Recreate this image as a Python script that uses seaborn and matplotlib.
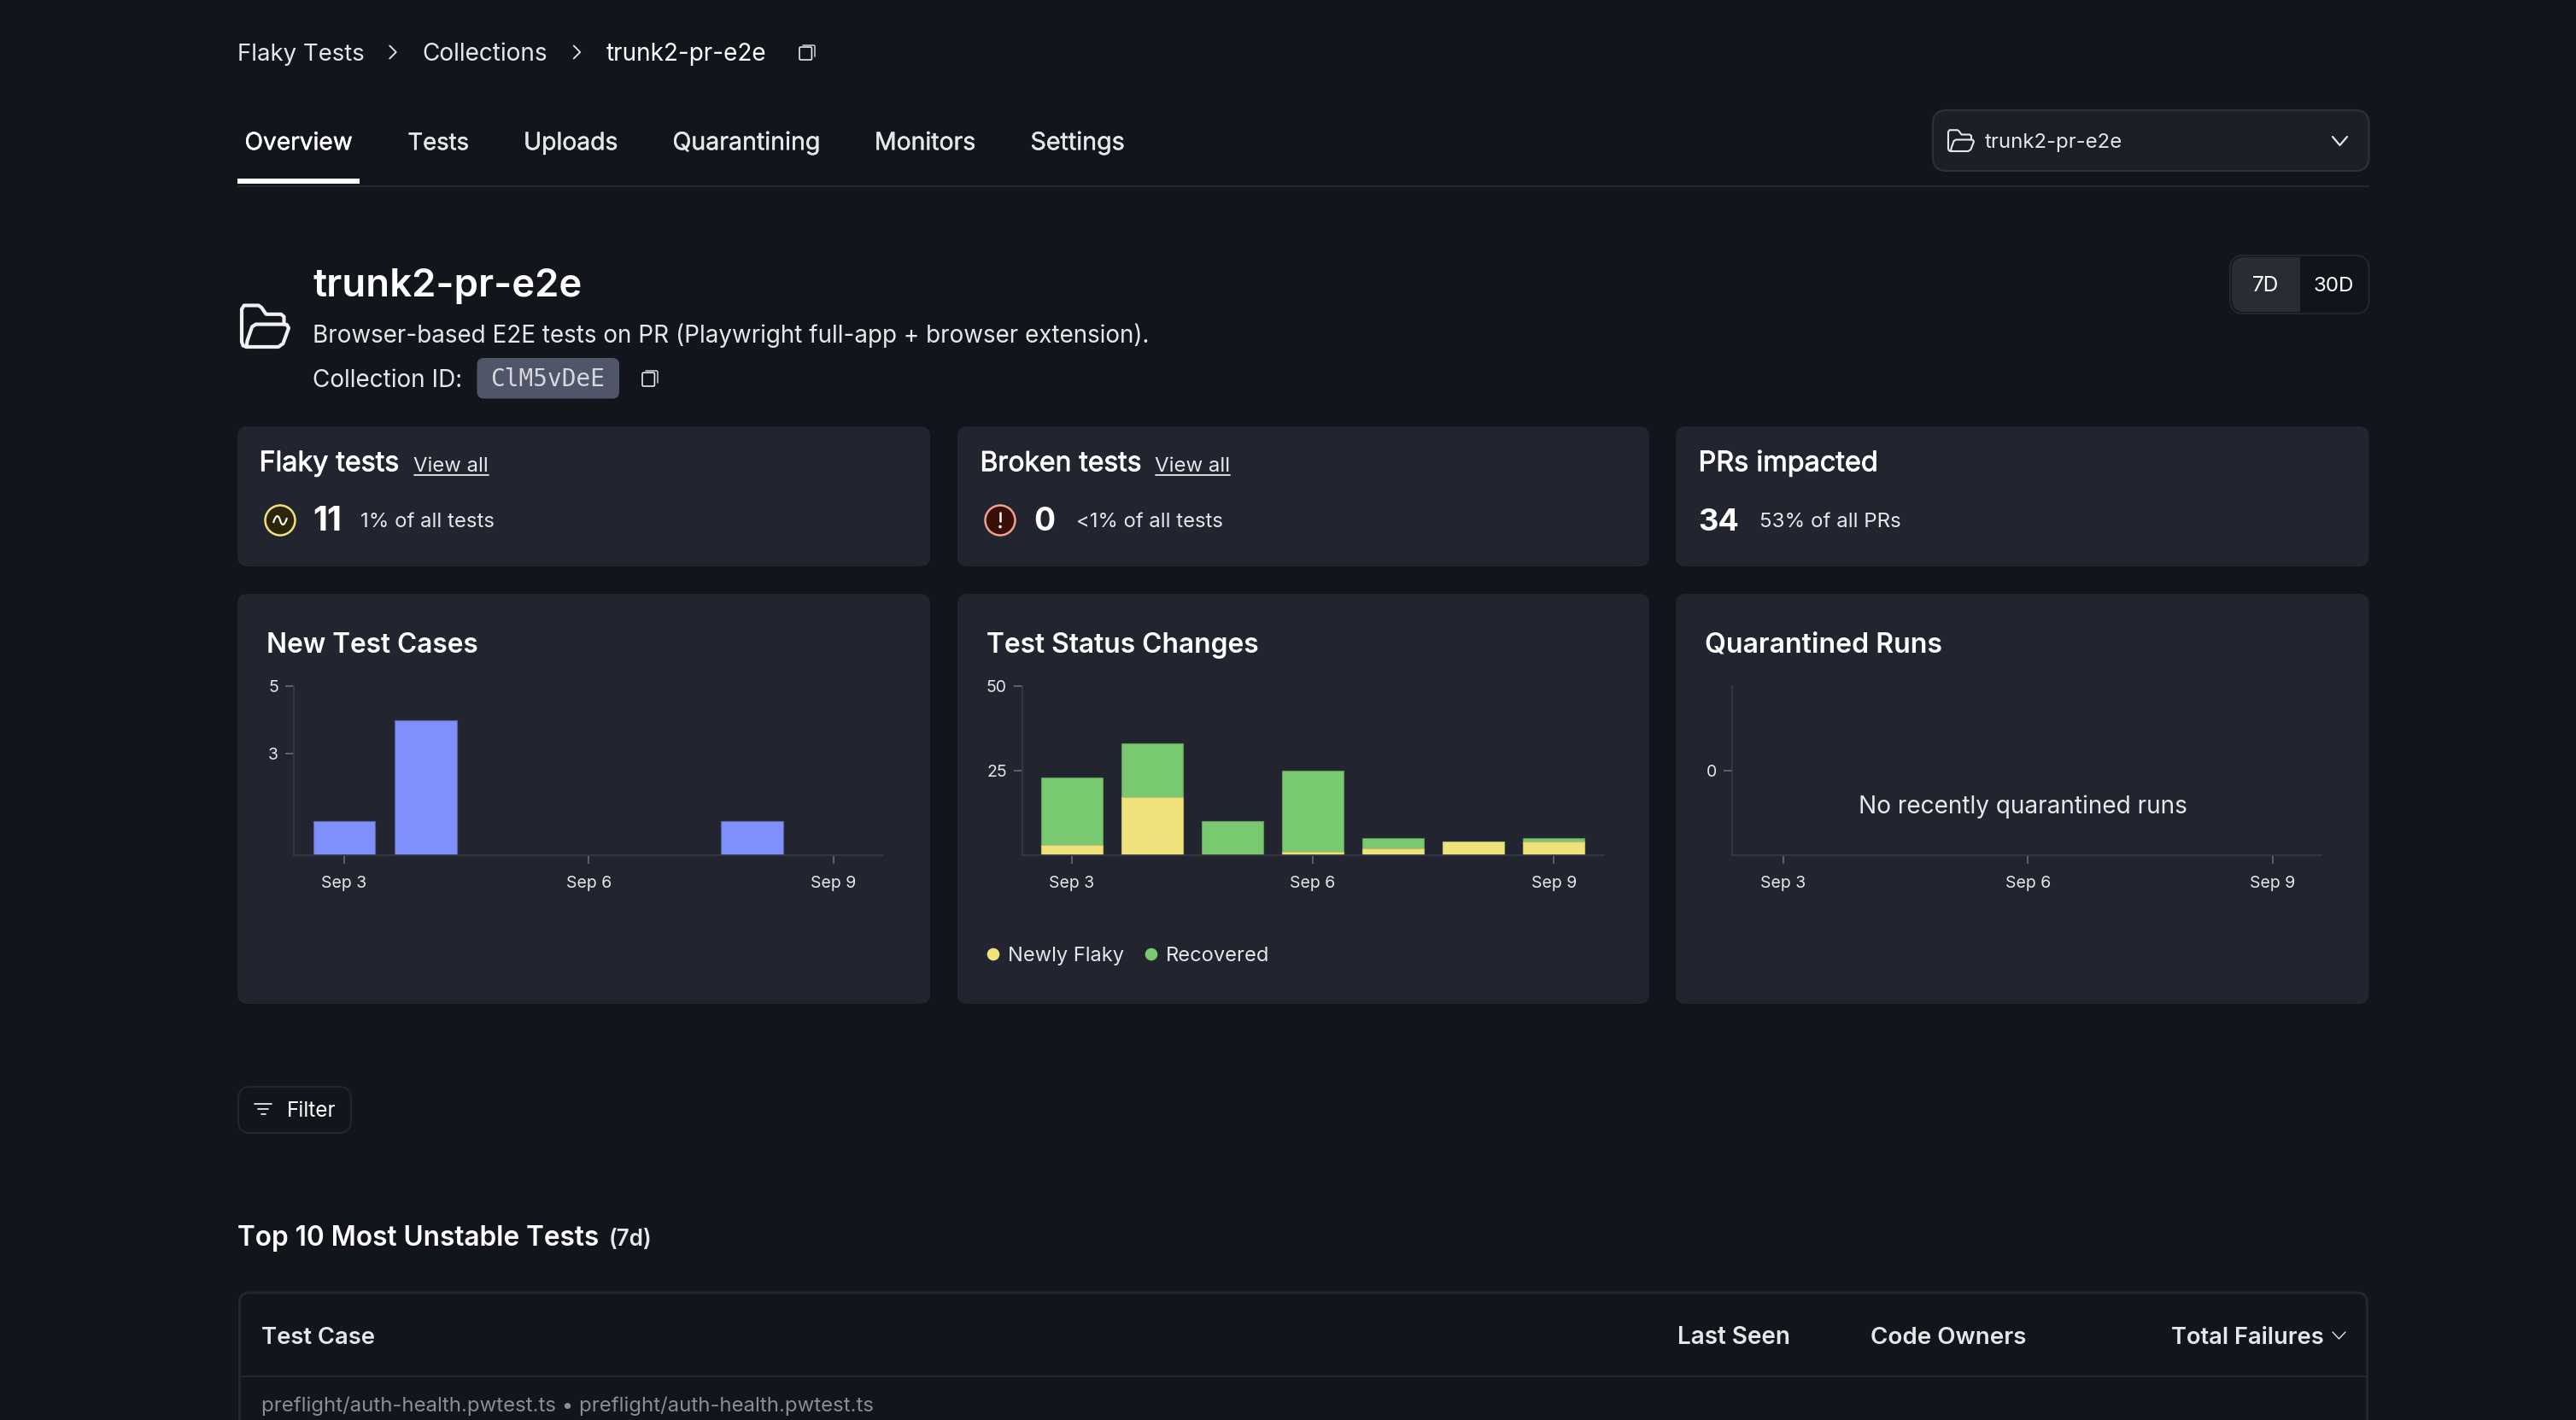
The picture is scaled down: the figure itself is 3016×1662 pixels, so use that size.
import matplotlib
matplotlib.use("Agg")
import matplotlib.pyplot as plt
import matplotlib.patheffects as pe
import seaborn as sns
from matplotlib.patches import FancyBboxPatch, Rectangle, Circle, PathPatch
from matplotlib.path import Path

# ---------- data ----------
days = ["Sep 3", "Sep 4", "Sep 5", "Sep 6", "Sep 7", "Sep 8", "Sep 9"]
new_test_cases = [1, 4, 0, 0, 0, 1, 0]
newly_flaky = [3, 17, 0, 1, 2, 4, 4]
recovered = [20, 16, 10, 24, 3, 0, 1]
quarantined = [0, 0, 0, 0, 0, 0, 0]
shown_ticks = [0, 3, 6]
shown_labels = ["Sep 3", "Sep 6", "Sep 9"]
tabs = ["Overview", "Tests", "Uploads", "Quarantining", "Monitors", "Settings"]

# ---------- style ----------
BG = "#12151c"
CARD = "#22252f"
LINE = "#23252f"
SPINE = "#363843"
TICK = "#6b6d75"
TXT = "#e6e7ea"
WHITE = "#ffffff"
BLUE = "#7f8ffb"
GREEN = "#79c971"
YELLOW = "#f0e27a"
W, H = 3016, 1662

sns.set_theme(style="dark")
plt.rcParams["font.family"] = ["Inter", "DejaVu Sans"]
plt.rcParams["axes.unicode_minus"] = False

fig = plt.figure(figsize=(W / 100, H / 100), dpi=100, facecolor=BG)
ui = fig.add_axes([0, 0, 1, 1], zorder=0)
ui.set_xlim(0, W)
ui.set_ylim(H, 0)
ui.axis("off")
renderer = fig.canvas.get_renderer()


def T(x0, x1, y, s, color=TXT, weight="normal", family=None, faux=0.0):
    kw = {"family": family} if family else {}
    t = ui.text(x0 - 0.5, y + 0.7, s, color=color, fontweight=weight, fontsize=20,
                va="baseline", ha="left", **kw)
    w = t.get_window_extent(renderer).width
    t.set_fontsize(20 * (x1 - x0 + 1) / w)
    if faux:
        t.set_path_effects([pe.withStroke(linewidth=faux, foreground=color)])
    return t


def box(x0, y0, x1, y1, r, fc=CARD, ec="none", lw=0.0, z=1):
    p = FancyBboxPatch((x0 + r, y0 + r), x1 - x0 - 2 * r, y1 - y0 - 2 * r,
                       boxstyle=f"round,pad={r},rounding_size={r}",
                       fc=fc, ec=ec, lw=lw, zorder=z)
    ui.add_patch(p)
    return p


def stroke(points, color=TXT, lw=1.5, z=3):
    xs, ys = zip(*points)
    ui.plot(xs, ys, color=color, lw=lw, solid_capstyle="round",
            solid_joinstyle="round", zorder=z)


def chevron_right(x, y, h, color=TXT, lw=1.3):
    stroke([(x - h * 0.25, y - h / 2), (x + h * 0.25, y), (x - h * 0.25, y + h / 2)], color, lw)


def chevron_down(x0, x1, y0, y1, color=TXT, lw=1.6):
    stroke([(x0, y0), ((x0 + x1) / 2, y1), (x1, y0)], color, lw)


def copy_icon(x0, y0, x1, y1, color=TXT):
    w = x1 - x0
    h = y1 - y0
    box(x0, y0 + h * 0.12, x1 - w * 0.2, y1, 1.5, fc="none", ec=color, lw=1.2, z=3)
    stroke([(x0 + w * 0.22, y0), (x1 - 1, y0), (x1, y0 + 1), (x1, y1 - h * 0.22)], color, 1.0)


def folder(x0, y0, x1, y1, color=TXT, lw=2.5):
    w = x1 - x0
    h = y1 - y0
    f = lambda a, b: (x0 + a * w, y0 + b * h)
    stroke([f(.1, 1), f(.03, .97), f(0, .88), f(0, .1), f(.05, .01), f(.36, .01), f(.42, .06),
            f(.52, .22), f(.84, .22), f(.9, .28), f(.9, .46)], color, lw)
    stroke([f(.1, 1), f(.78, 1), f(.88, .92), f(1, .55), f(.96, .47), f(.9, .46), f(.3, .46),
            f(.22, .52), f(.12, .85), f(.1, 1)], color, lw)


def finish_chart(ax, xlim, ylim, yticks):
    ax.set_xlim(*xlim)
    ax.set_ylim(*ylim)
    ax.set_xlabel("")
    ax.set_ylabel("")
    ax.set_xticks(shown_ticks)
    ax.set_xticklabels(shown_labels)
    ax.set_yticks(yticks)
    ax.set_yticklabels([str(v) for v in yticks])
    ax.grid(False)
    for s in ("top", "right"):
        ax.spines[s].set_visible(False)
    for s in ("left", "bottom"):
        ax.spines[s].set_color(SPINE)
        ax.spines[s].set_linewidth(1.3)
    ax.tick_params(axis="both", which="major", length=7, width=1.2, color=TICK,
                   labelcolor=TXT, labelsize=14, bottom=True, left=True)
    ax.tick_params(axis="x", pad=10.5)
    ax.tick_params(axis="y", pad=6)
    for p in ax.patches:
        if p.get_height() == 0:
            p.set_visible(False)


# ---------- breadcrumb ----------
T(278, 426, 70.5, "Flaky Tests")
chevron_right(460, 61, 15)
T(495, 641, 70.5, "Collections")
chevron_right(675.5, 61, 15)
T(710, 897, 70.5, "trunk2-pr-e2e", color=WHITE)
copy_icon(936, 53, 954, 70)

# ---------- tabs ----------
tab_spans = [(287, 412), (478, 548.5), (613.6, 723), (788, 959.5), (1024.5, 1141.6), (1207, 1316)]
for name, (a, b) in zip(tabs, tab_spans):
    T(a, b, 174.5, name, color=WHITE if name == "Overview" else TXT, faux=0.3)
ui.add_patch(Rectangle((278, 209), 143, 6, fc=WHITE, ec="none", zorder=3))
ui.add_patch(Rectangle((278, 217), 2495.6, 2, fc=LINE, ec="none", zorder=2))

# ---------- dropdown ----------
box(2263, 129, 2773.5, 200, 16, fc="#1c1f27", ec="#2e303a", lw=1.5)
folder(2281, 152, 2311, 177, lw=1.5)
T(2324, 2484, 172.5, "trunk2-pr-e2e")
chevron_down(2731, 2748, 160, 170)

# ---------- title block ----------
folder(283, 357, 338, 406, color="#f0f0f2", lw=3.0)
T(367, 681, 346.5, "trunk2-pr-e2e", color=WHITE, weight="semibold")
T(367, 1347, 400, "Browser-based E2E tests on PR (Playwright full-app + browser extension).")
T(367, 541.6, 452, "Collection ID:")
box(558.5, 419, 725, 466.5, 8, fc="#505669")
T(575, 707.7, 451, "ClM5vDeE", color="#d6d8de", family="DejaVu Sans Mono")
copy_icon(752, 434, 770, 452)

# ---------- range toggle ----------
box(2611, 299, 2773.5, 367, 16, fc="#12141b", ec=LINE, lw=1.5)
sel = box(2613, 301, 2730, 365, 15, fc="#2a2c33", z=2)
sel.set_clip_path(Rectangle((2600, 290), 93, 90, transform=ui.transData))
T(2637.5, 2668, 340.5, "7D", color=WHITE)
T(2709.5, 2756, 340.5, "30D", color=WHITE)

# ---------- stat cards ----------
card_x = [(278, 1089), (1121, 1931), (1962, 2773.5)]
for a, b in card_x:
    box(a, 499, b, 663, 12)

T(304, 467, 550.5, "Flaky tests", color=WHITE, faux=0.6)
T(485, 571.5, 551, "View all")
ui.plot([485, 571.5], [556, 556], color=TXT, lw=1.3, zorder=3)
ui.add_patch(Circle((328, 609), 17.5, fc="#2c2608", ec=YELLOW, lw=1.8, zorder=3))
wave = Path([(320, 612), (323, 602), (326, 602), (328, 609), (330, 616), (333, 616), (336, 606)],
            [Path.MOVETO, Path.CURVE4, Path.CURVE4, Path.CURVE4, Path.CURVE4, Path.CURVE4, Path.CURVE4])
ui.add_patch(PathPatch(wave, fc="none", ec=WHITE, lw=1.5, zorder=4))
T(367, 400, 620.5, "11", color=WHITE, weight="bold")
T(423, 579, 616.5, "1% of all tests")

T(1148, 1336, 550.5, "Broken tests", color=WHITE, faux=0.6)
T(1353, 1440, 551, "View all")
ui.plot([1353, 1440], [556, 556], color=TXT, lw=1.3, zorder=3)
ui.add_patch(Circle((1171, 609), 17.5, fc="#3a0f08", ec="#f0a090", lw=1.8, zorder=3))
stroke([(1171, 600), (1171, 610)], WHITE, 1.8, 4)
ui.add_patch(Circle((1171, 616.5), 1.8, fc=WHITE, ec="none", zorder=4))
T(1211, 1235, 620.5, "0", color=WHITE, weight="bold")
T(1260, 1431, 616.5, "<1% of all tests")

T(1989, 2198.5, 550.5, "PRs impacted", color=WHITE, faux=0.6)
T(1989, 2036, 620.5, "34", color=WHITE, weight="bold")
T(2060, 2225, 616.5, "53% of all PRs")

# ---------- chart cards ----------
for a, b in card_x:
    box(a, 695, b, 1175, 12)
T(312.5, 559.5, 763, "New Test Cases", color=WHITE, weight="semibold")
T(1155.5, 1473.5, 763, "Test Status Changes", color=WHITE, weight="semibold")
T(1996.5, 2273.5, 763, "Quarantined Runs", color=WHITE, weight="semibold")

# chart 1
ax1 = fig.add_axes([344 / W, 1 - 1000.7 / H, 690 / W, 197.7 / H], zorder=2)
ax1.patch.set_alpha(0)
sns.barplot(x=days, y=new_test_cases, order=days, color=BLUE, saturation=1, width=0.76,
            edgecolor="#5a669f", linewidth=0.8, ax=ax1)
finish_chart(ax1, (-0.618, 6.61), (0, 5), [3, 5])

# chart 2 : stacked, totals behind the lower series
ax2 = fig.add_axes([1197 / W, 1 - 1000.7 / H, 680.5 / W, 197.7 / H], zorder=2)
ax2.patch.set_alpha(0)
totals = [a + b for a, b in zip(newly_flaky, recovered)]
sns.barplot(x=days, y=totals, order=days, color=GREEN, saturation=1, width=0.76,
            edgecolor="#5f9a5c", linewidth=0.8, ax=ax2)
sns.barplot(x=days, y=newly_flaky, order=days, color=YELLOW, saturation=1, width=0.76,
            edgecolor="#c5ba6a", linewidth=0.8, ax=ax2)
finish_chart(ax2, (-0.617, 6.62), (0, 50), [25, 50])

ui.add_patch(Circle((1163, 1117), 7.3, fc=YELLOW, ec="none", zorder=3))
T(1180, 1315, 1124, "Newly Flaky")
ui.add_patch(Circle((1348, 1117), 7.3, fc=GREEN, ec="none", zorder=3))
T(1365, 1485, 1124, "Recovered")

# chart 3
ax3 = fig.add_axes([2028 / W, 1 - 1000.7 / H, 690 / W, 197.7 / H], zorder=2)
ax3.patch.set_alpha(0)
sns.barplot(x=days, y=quarantined, order=days, color=BLUE, saturation=1, width=0.76, ax=ax3)
finish_chart(ax3, (-0.628, 6.6), (-1, 1), [0])
T(2176, 2561, 951, "No recently quarantined runs")

# ---------- filter ----------
box(279, 1272, 411, 1326, 14, fc="none", ec=LINE, lw=1.5)
stroke([(298, 1292), (318, 1292)], TXT, 1.3)
stroke([(302, 1298), (314, 1298)], TXT, 1.3)
stroke([(305.5, 1304), (310.5, 1304)], TXT, 1.3)
T(336.5, 393, 1306, "Filter", color=WHITE)

# ---------- table ----------
T(279, 702, 1457, "Top 10 Most Unstable Tests", color=WHITE, weight="semibold")
T(713, 763, 1457, "(7d)", color=TXT, weight="semibold")
box(280.5, 1513, 2771.5, 1720, 12, fc="none", ec=LINE, lw=2.2)
ui.add_patch(Rectangle((281, 1610), 2490, 2, fc=LINE, ec="none", zorder=2))
T(307, 439, 1572, "Test Case", weight="semibold")
T(1965, 2096, 1572, "Last Seen", weight="semibold")
T(2191, 2372.5, 1572, "Code Owners", weight="semibold")
T(2543, 2721, 1572, "Total Failures", weight="semibold")
chevron_down(2731, 2746, 1559, 1567, lw=1.0)
T(307, 1021, 1651.5, "preflight/auth-health.pwtest.ts • preflight/auth-health.pwtest.ts", color="#8b8d95")

fig.savefig("out.png", dpi=100, facecolor=BG)
